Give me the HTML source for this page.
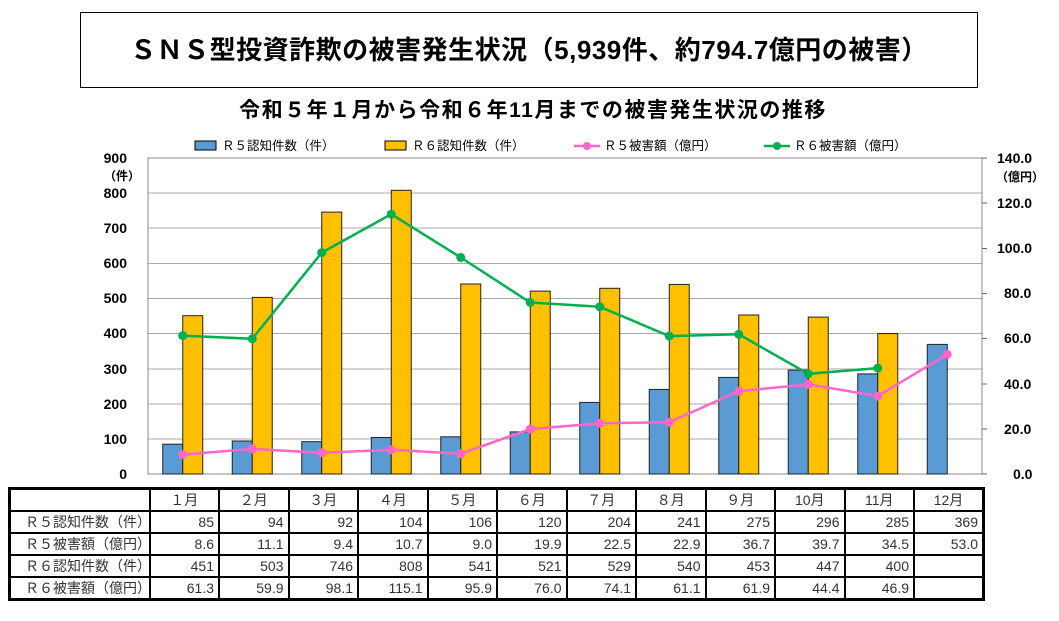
<!DOCTYPE html>
<html><head><meta charset="utf-8"><style>
body{margin:0;background:#fff;width:1059px;height:621px;overflow:hidden;font-family:"Liberation Sans","Noto Sans CJK JP",sans-serif;}
.t{position:absolute;left:80px;top:12px;width:898px;height:76px;border:1.5px solid #000;box-sizing:border-box;text-align:center;font-weight:bold;font-size:26px;line-height:74px;letter-spacing:0.5px}
table{position:absolute;left:8px;top:487px;border-collapse:collapse;border:3px solid #000;font-size:14px;color:#333;table-layout:fixed;}
td{border:2.5px solid #000;height:20px;padding:0 4px;text-align:right;line-height:19px}
td:first-child{text-align:left;padding-left:14px;width:118px}
tr.h td{text-align:center}
</style></head><body>
<div class="t">ＳＮＳ型投資詐欺の被害発生状況（5,939件、約794.7億円の被害）</div>
<svg width="1059" height="621" style="position:absolute;left:0;top:0" font-family="Liberation Sans, Noto Sans CJK JP, sans-serif">
<text x="533" y="117" text-anchor="middle" font-size="21" font-weight="bold" letter-spacing="1.5">令和５年１月から令和６年11月までの被害発生状況の推移</text>
<g font-size="12.5">
<rect x="195" y="141" width="21" height="9" fill="#5b9bd5" stroke="#000"/><text x="222" y="150">Ｒ５認知件数（件）</text>
<rect x="385" y="141" width="21" height="9" fill="#ffc000" stroke="#000"/><text x="412" y="150">Ｒ６認知件数（件）</text>
<line x1="574" y1="146" x2="600" y2="146" stroke="#ff66cc" stroke-width="2.5"/><circle cx="587" cy="146" r="4" fill="#ff66cc"/><text x="604" y="150">Ｒ５被害額（億円）</text>
<line x1="764" y1="146" x2="790" y2="146" stroke="#00b050" stroke-width="2.5"/><circle cx="777" cy="146" r="4" fill="#00b050"/><text x="794" y="150">Ｒ６被害額（億円）</text>
</g>
<g stroke="#aaa" stroke-width="1">
<line x1="148" y1="158" x2="982" y2="158"/><line x1="148" y1="193" x2="982" y2="193"/><line x1="148" y1="228" x2="982" y2="228"/><line x1="148" y1="263.5" x2="982" y2="263.5"/><line x1="148" y1="298.5" x2="982" y2="298.5"/><line x1="148" y1="333.5" x2="982" y2="333.5"/><line x1="148" y1="369" x2="982" y2="369"/><line x1="148" y1="404" x2="982" y2="404"/><line x1="148" y1="439" x2="982" y2="439"/>
</g>
<rect x="148" y="158" width="834" height="316" fill="none" stroke="#888"/>
<g stroke="#666"><line x1="982" y1="158" x2="987" y2="158"/><line x1="982" y1="203" x2="987" y2="203"/><line x1="982" y1="248.5" x2="987" y2="248.5"/><line x1="982" y1="293.5" x2="987" y2="293.5"/><line x1="982" y1="338.5" x2="987" y2="338.5"/><line x1="982" y1="384" x2="987" y2="384"/><line x1="982" y1="429" x2="987" y2="429"/><line x1="982" y1="474" x2="987" y2="474"/></g>
<g font-size="14" font-weight="bold" text-anchor="end">
<text x="127" y="163">900</text><text x="127" y="198">800</text><text x="127" y="233">700</text><text x="127" y="268">600</text><text x="127" y="303">500</text><text x="127" y="338">400</text><text x="127" y="374">300</text><text x="127" y="409">200</text><text x="127" y="444">100</text><text x="127" y="479">0</text>
</g>
<text x="104" y="180" font-size="12" font-weight="bold">（件）</text>
<g font-size="14" font-weight="bold">
<text x="997" y="163">140.0</text><text x="997" y="208">120.0</text><text x="997" y="253">100.0</text><text x="1004" y="298">80.0</text><text x="1004" y="343">60.0</text><text x="1004" y="389">40.0</text><text x="1004" y="434">20.0</text><text x="1013" y="479">0.0</text>
</g>
<text x="996" y="181" font-size="12" font-weight="bold">（億円）</text>
<g fill="#5b9bd5" stroke="#222" stroke-width="1">
<rect x="162.75" y="444.2" width="20" height="29.8"/><rect x="232.25" y="441" width="20" height="33"/><rect x="301.75" y="441.7" width="20" height="32.3"/><rect x="371.25" y="437.5" width="20" height="36.5"/><rect x="440.75" y="436.8" width="20" height="37.2"/><rect x="510.25" y="431.9" width="20" height="42.1"/><rect x="579.75" y="402.4" width="20" height="71.6"/><rect x="649.25" y="389.4" width="20" height="84.6"/><rect x="718.75" y="377.4" width="20" height="96.6"/><rect x="788.25" y="370.1" width="20" height="103.9"/><rect x="857.75" y="373.9" width="20" height="100.1"/><rect x="927.25" y="344.4" width="20" height="129.6"/>
</g>
<g fill="#ffc000" stroke="#222" stroke-width="1">
<rect x="182.75" y="315.7" width="20" height="158.3"/><rect x="252.25" y="297.4" width="20" height="176.6"/><rect x="321.75" y="212.1" width="20" height="261.9"/><rect x="391.25" y="190.3" width="20" height="283.7"/><rect x="460.75" y="284" width="20" height="190"/><rect x="530.25" y="291.1" width="20" height="182.9"/><rect x="599.75" y="288.3" width="20" height="185.7"/><rect x="669.25" y="284.4" width="20" height="189.6"/><rect x="738.75" y="315" width="20" height="159"/><rect x="808.25" y="317.1" width="20" height="156.9"/><rect x="877.75" y="333.6" width="20" height="140.4"/>
</g>
<g fill="#ff66cc"><polyline fill="none" stroke="#ff66cc" stroke-width="2.5" points="182.75,454.6 252.25,448.9 321.75,452.8 391.25,449.8 460.75,453.7 530.25,429.1 599.75,423.2 669.25,422.3 738.75,391.2 808.25,384.4 877.75,396.1 947.25,354.4"/>
<circle cx="182.75" cy="454.6" r="4.5"/><circle cx="252.25" cy="448.9" r="4.5"/><circle cx="321.75" cy="452.8" r="4.5"/><circle cx="391.25" cy="449.8" r="4.5"/><circle cx="460.75" cy="453.7" r="4.5"/><circle cx="530.25" cy="429.1" r="4.5"/><circle cx="599.75" cy="423.2" r="4.5"/><circle cx="669.25" cy="422.3" r="4.5"/><circle cx="738.75" cy="391.2" r="4.5"/><circle cx="808.25" cy="384.4" r="4.5"/><circle cx="877.75" cy="396.1" r="4.5"/><circle cx="947.25" cy="354.4" r="4.5"/></g>
<g fill="#00b050"><polyline fill="none" stroke="#00b050" stroke-width="2.5" points="182.75,335.6 252.25,338.8 321.75,252.6 391.25,214.2 460.75,257.5 530.25,302.5 599.75,306.7 669.25,336.1 738.75,334.3 808.25,373.8 877.75,368.1"/>
<circle cx="182.75" cy="335.6" r="4.5"/><circle cx="252.25" cy="338.8" r="4.5"/><circle cx="321.75" cy="252.6" r="4.5"/><circle cx="391.25" cy="214.2" r="4.5"/><circle cx="460.75" cy="257.5" r="4.5"/><circle cx="530.25" cy="302.5" r="4.5"/><circle cx="599.75" cy="306.7" r="4.5"/><circle cx="669.25" cy="336.1" r="4.5"/><circle cx="738.75" cy="334.3" r="4.5"/><circle cx="808.25" cy="373.8" r="4.5"/><circle cx="877.75" cy="368.1" r="4.5"/></g>
</svg>
<table>
<colgroup><col style="width:140px"><col style="width:69.5px"><col style="width:69.5px"><col style="width:69.5px"><col style="width:69.5px"><col style="width:69.5px"><col style="width:69.5px"><col style="width:69.5px"><col style="width:69.5px"><col style="width:69.5px"><col style="width:69.5px"><col style="width:69.5px"><col style="width:69.5px"></colgroup>
<tr class="h"><td></td><td>１月</td><td>２月</td><td>３月</td><td>４月</td><td>５月</td><td>６月</td><td>７月</td><td>８月</td><td>９月</td><td>10月</td><td>11月</td><td>12月</td></tr>
<tr><td>Ｒ５認知件数（件）</td><td>85</td><td>94</td><td>92</td><td>104</td><td>106</td><td>120</td><td>204</td><td>241</td><td>275</td><td>296</td><td>285</td><td>369</td></tr>
<tr><td>Ｒ５被害額（億円）</td><td>8.6</td><td>11.1</td><td>9.4</td><td>10.7</td><td>9.0</td><td>19.9</td><td>22.5</td><td>22.9</td><td>36.7</td><td>39.7</td><td>34.5</td><td>53.0</td></tr>
<tr><td>Ｒ６認知件数（件）</td><td>451</td><td>503</td><td>746</td><td>808</td><td>541</td><td>521</td><td>529</td><td>540</td><td>453</td><td>447</td><td>400</td><td></td></tr>
<tr><td>Ｒ６被害額（億円）</td><td>61.3</td><td>59.9</td><td>98.1</td><td>115.1</td><td>95.9</td><td>76.0</td><td>74.1</td><td>61.1</td><td>61.9</td><td>44.4</td><td>46.9</td><td></td></tr>
</table>
</body></html>
